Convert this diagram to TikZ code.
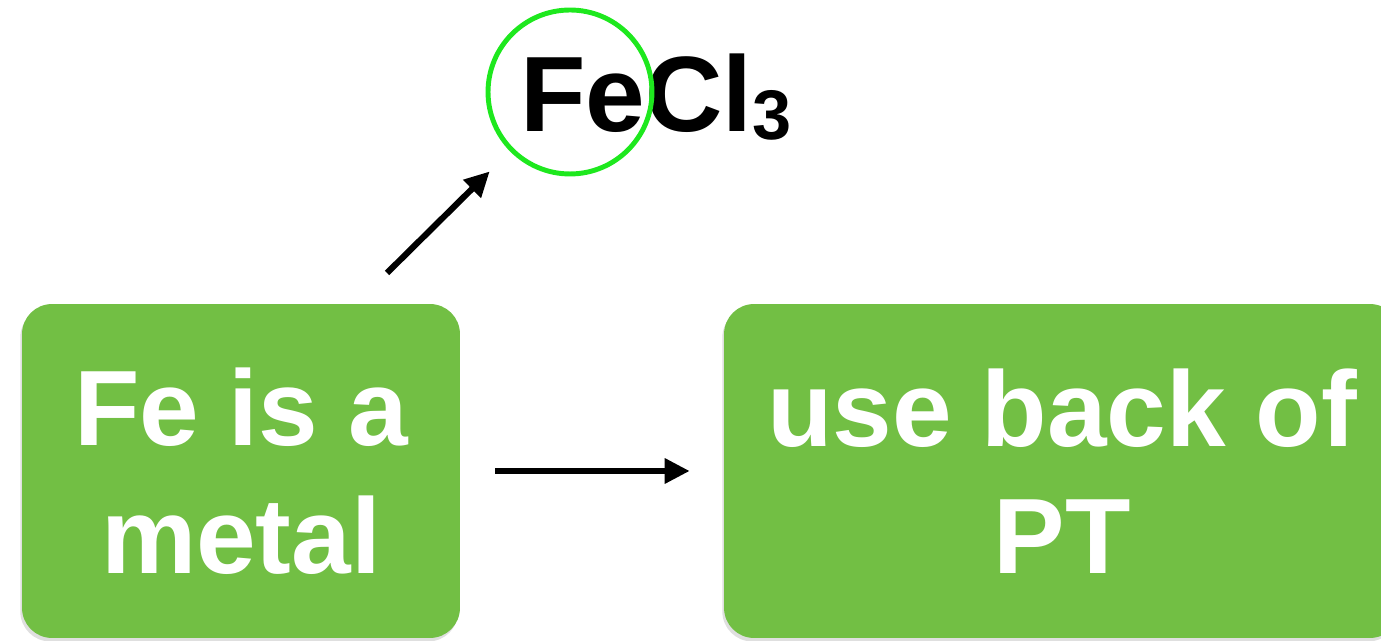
\documentclass[tikz,border=0pt]{standalone}
\usepackage{fontspec}
\setmainfont{Liberation Sans}
\usetikzlibrary{arrows.meta,shadows}
\definecolor{gr}{HTML}{72BF44}
\definecolor{rg}{HTML}{1EE81E}

\begin{document}
\begin{tikzpicture}[x=0.02cm,y=0.02cm]
  \tikzstyle{every node}=[font=\fontsize{61}{72.6}\selectfont\bfseries]
  \tikzstyle{box}=[fill=gr, rounded corners=0.6cm, text=white, align=center, inner sep=0pt,
                   drop shadow={opacity=0.25, shadow xshift=-1pt, shadow yshift=-2pt}]
  \tikzstyle{arr}=[-{Triangle[length=0.5cm,width=0.48cm]}, line width=3.5pt]
  \useasboundingbox (0,0) rectangle (1381,641);
  \node[box, minimum width=8.76cm, minimum height=6.68cm] (metal) at (241,170) {Fe is a\\metal};
  \node[box, minimum width=13.52cm, minimum height=6.68cm] (pt) at (1062,170) {use back of\\PT};
  \node[anchor=base west, inner sep=0pt] (fecl) at (520,509) {FeCl\raisebox{-4.5pt}{\fontsize{40}{40}\selectfont 3}};
  \node[draw=rg, line width=2.8pt, circle, minimum size=3.28cm, inner sep=0pt] (hl) at (570,549) {};
  \coordinate (tail) at (387,368);
  \draw[arr, shorten >=0.57cm] (tail) -- (hl);
  \draw[arr, shorten <=0.7cm, shorten >=0.68cm] (metal) -- (pt);
\end{tikzpicture}
\end{document}
